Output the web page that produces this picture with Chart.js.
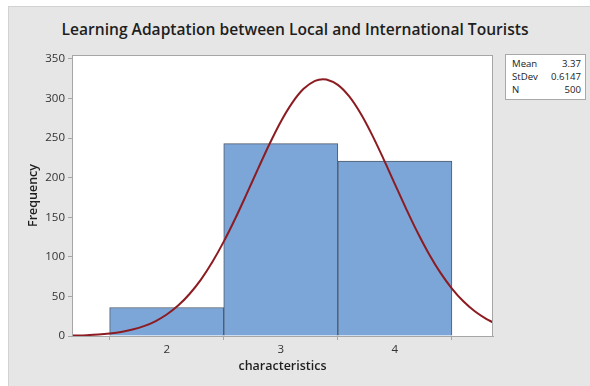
<!DOCTYPE html>
<html><head><meta charset="utf-8">
<script src="https://cdn.jsdelivr.net/npm/chart.js@4"></script>
<style>
html,body{margin:0;padding:0;background:#fff;width:590px;height:386px;overflow:hidden;font-family:'Open Sans',sans-serif;}
#bg{position:absolute;left:8px;top:6px;width:582px;height:380px;background:#e6e6e6;border-left:1px solid #d2d2d2;border-top:1px solid #d2d2d2;box-sizing:border-box;}
#wrap{position:absolute;left:0;top:0;width:590px;height:386px;}
#title{position:absolute;left:0;width:590px;top:18px;text-align:center;font-size:15.6px;font-weight:600;color:#1e1e1e;white-space:nowrap;}
#stats{position:absolute;left:505px;top:54px;width:81px;height:46px;background:#fff;border:1px solid #a8a8a8;box-sizing:border-box;font-size:9.6px;padding:2px 4px 0 6px;color:#222;}
.row{display:flex;justify-content:space-between;line-height:13px;}
</style></head>
<body>
<div id="bg"></div>
<div id="title">Learning Adaptation between Local and International Tourists</div>
<div id="wrap"><canvas id="c" width="590" height="386"></canvas></div>
<div id="stats"></div>
<script>
const chartTitle = 'Learning Adaptation between Local and International Tourists';
const xAxisTitle = 'characteristics';
const yAxisTitle = 'Frequency';
const xTickValues = [2, 3, 4];
const xTickLabels = ['2', '3', '4'];
const yTickValues = [0, 50, 100, 150, 200, 250, 300, 350];
const yTickLabels = ['0', '50', '100', '150', '200', '250', '300', '350'];
const binCenters = [2, 3, 4];
const frequencies = [36, 243, 221];
const fitX = [1.17, 1.3, 1.4, 1.5, 1.6, 1.7, 1.8, 1.9, 2.0, 2.1, 2.2, 2.3, 2.4, 2.5, 2.6, 2.7, 2.8, 2.9, 3.0, 3.1, 3.2, 3.3, 3.37, 3.4, 3.5, 3.6, 3.7, 3.8, 3.9, 4.0, 4.1, 4.2, 4.3, 4.4, 4.5, 4.6, 4.7, 4.8, 4.86];
const fitY = [0.5, 1.1, 1.9, 3.2, 5.1, 8.1, 12.4, 18.6, 27.1, 38.4, 53.1, 71.3, 93.5, 119.2, 148.1, 179.2, 211.1, 242.3, 270.8, 294.6, 312.3, 322.4, 324.5, 324.1, 317.3, 302.6, 281.0, 254.1, 223.8, 191.9, 160.3, 130.4, 103.3, 79.7, 59.9, 43.8, 31.2, 21.7, 17.2];
const statLabels = ['Mean', 'StDev', 'N'];
const statValues = ['3.37', '0.6147', '500'];

document.getElementById('title').textContent = chartTitle;
document.getElementById('stats').innerHTML = statLabels.map((l, i) =>
  '<div class="row"><span>' + l + '</span><span>' + statValues[i] + '</span></div>').join('');

const FONT = "'Open Sans', sans-serif";
const plotBox = {
  id: 'plotBox',
  beforeDraw(c) {
    const a = c.chartArea, ctx = c.ctx;
    ctx.save(); ctx.fillStyle = '#ffffff';
    ctx.fillRect(a.left, a.top, a.right - a.left, a.bottom - a.top);
    ctx.restore();
  },
  afterDraw(c) {
    const a = c.chartArea, ctx = c.ctx;
    ctx.save(); ctx.strokeStyle = '#a6a6a6'; ctx.lineWidth = 1;
    ctx.strokeRect(a.left + 0.5, a.top + 0.5, a.right - a.left - 1, a.bottom - a.top);
    ctx.restore();
  }
};

new Chart(document.getElementById('c'), {
  data: {
    datasets: [
      {
        type: 'line',
        data: fitX.map((x, i) => ({ x: x, y: fitY[i] })),
        borderColor: '#8c1c22',
        borderWidth: 2,
        pointRadius: 0,
        tension: 0.4,
        cubicInterpolationMode: 'monotone',
        order: 0
      },
      {
        type: 'bar',
        data: binCenters.map((x, i) => ({ x: x, y: frequencies[i] })),
        backgroundColor: '#7ca6d8',
        borderColor: '#4e5a68',
        borderWidth: 1,
        barPercentage: 1,
        categoryPercentage: 1,
        order: 1
      }
    ]
  },
  options: {
    responsive: false,
    animation: false,
    devicePixelRatio: 1,
    layout: { padding: { top: 55, right: 97, bottom: 0, left: 0 } },
    plugins: { legend: { display: false }, tooltip: { enabled: false }, title: { display: false } },
    scales: {
      x: {
        type: 'linear', min: 1.17, max: 4.86, offset: false,
        afterBuildTicks: s => { s.ticks = xTickValues.map(v => ({ value: v })); },
        afterFit: s => { s.height = 50; },
        ticks: { callback: v => xTickLabels[xTickValues.indexOf(v)], font: { family: FONT, size: 11.5 }, color: '#333', padding: 3, maxRotation: 0, autoSkip: false },
        grid: { drawOnChartArea: false, tickLength: 4, color: '#a6a6a6' },
        border: { color: '#a6a6a6' },
        title: { display: true, text: xAxisTitle, font: { family: FONT, size: 12.5, weight: '600' }, color: '#1e1e1e', padding: { top: 0, bottom: 12 } }
      },
      y: {
        type: 'linear', min: 0, max: 355,
        afterBuildTicks: s => { s.ticks = yTickValues.map(v => ({ value: v })); },
        afterFit: s => { s.width = 72; },
        ticks: { callback: v => yTickLabels[yTickValues.indexOf(v)], font: { family: FONT, size: 11.5 }, color: '#333', padding: 3, autoSkip: false },
        grid: { drawOnChartArea: false, tickLength: 4, color: '#a6a6a6' },
        border: { color: '#a6a6a6' },
        title: { display: true, text: yAxisTitle, font: { family: FONT, size: 12.5, weight: '600' }, color: '#1e1e1e', padding: { top: 26, bottom: 0 } }
      }
    }
  },
  plugins: [plotBox]
});
</script>
</body></html>
